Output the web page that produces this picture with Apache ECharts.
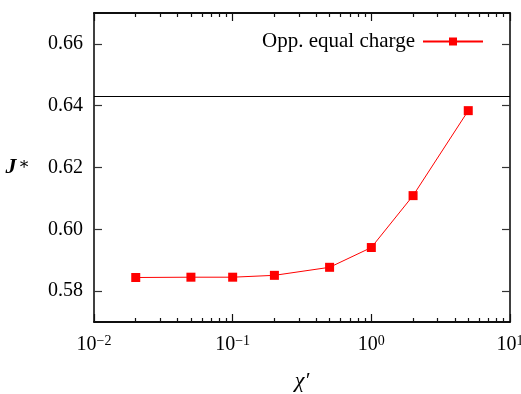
<!DOCTYPE html>
<html><head><meta charset="utf-8">
<script src="https://cdn.jsdelivr.net/npm/echarts@6/dist/echarts.min.js"></script>
<style>html,body{margin:0;padding:0;background:#fff}#c{width:521px;height:394px}</style>
</head><body><div id="c"></div>
<script>
const chiValues = [0.02, 0.05, 0.1, 0.2, 0.5, 1, 2, 5];
const jValues = [0.5844, 0.5845, 0.5845, 0.5851, 0.5877, 0.5941, 0.6109, 0.6384];
const seriesName = 'Opp. equal charge';
const refLine = 0.643;
const yTicks = [0.58, 0.60, 0.62, 0.64, 0.66];
const xMajor = [0.01, 0.1, 1, 10];
const xMinor = [0.02,0.03,0.04,0.05,0.06,0.07,0.08,0.09,0.2,0.3,0.4,0.5,0.6,0.7,0.8,0.9,2,3,4,5,6,7,8,9];
const expLabels = {0.01:'−2', 0.1:'−1', 1:'0', 10:'1'};

const serif = '"Liberation Serif","DejaVu Serif",serif';
const chart = echarts.init(document.getElementById('c'));
function xAx(pos, major, labels){
  return {
    type:'log', min:0.01, max:10, position:pos,
    axisLine:{show:true, lineStyle:{color:'#000', width:1.5}},
    axisTick:{show:true, inside:true, length: major?8:4, customValues: major?xMajor:xMinor, lineStyle:{color:'#111', width:1.2}},
    axisLabel:{show:labels, customValues:xMajor, margin:12,
      formatter:function(v){ return '{b|10}{s|' + (expLabels[v] ?? '') + '}'; },
      rich:{b:{fontFamily:serif, fontSize:20, color:'#000'}, s:{fontFamily:serif, fontSize:14, color:'#000', verticalAlign:'top', padding:[0,0,8,0]}}},
    splitLine:{show:false}
  };
}
const xAxes = [xAx('bottom', true, true), xAx('bottom', false, false), xAx('top', true, false), xAx('top', false, false)];
xAxes[0].name = 'χ′';
xAxes[0].nameLocation = 'middle';
xAxes[0].nameGap = 48;
xAxes[0].nameTextStyle = {fontFamily:serif, fontSize:22, fontStyle:'italic', color:'#000'};

function yAx(pos, labels){
  return {
    type:'value', min:0.57, max:0.67, position:pos,
    axisLine:{show:true, lineStyle:{color:'#000', width:1.5}},
    axisTick:{show:true, inside:true, length:8, customValues:yTicks, lineStyle:{color:'#333', width:1.2}},
    axisLabel:{show:labels, customValues:yTicks, margin:11, fontFamily:serif, fontSize:20, color:'#000',
      formatter:function(v){return v.toFixed(2);}},
    splitLine:{show:false}
  };
}
const yAxes = [yAx('left', true), yAx('right', false)];
yAxes[0].name = '{j|J}{s|∗}';
yAxes[0].nameLocation = 'middle';
yAxes[0].nameRotate = 0;
yAxes[0].nameGap = 64;
yAxes[0].nameTextStyle = {rich:{j:{fontFamily:serif, fontSize:22, fontStyle:'italic', fontWeight:'bold', color:'#000'}, s:{fontFamily:serif, fontSize:17, color:'#000', verticalAlign:'top', padding:[0,0,6,2]}}};

chart.setOption({
  animation:false,
  grid:{left:94, right:11, top:13, bottom:72, containLabel:false, outerBoundsMode:'none'},
  legend:{
    show:true, right:32, top:26, align:'right', itemWidth:60, itemHeight:10,
    textStyle:{fontFamily:serif, fontSize:21, color:'#000', padding:[0,3,0,0]},
    data:[{name:seriesName}]
  },
  xAxis: xAxes,
  yAxis: yAxes,
  series:[{
    name: seriesName, type:'line', xAxisIndex:0, yAxisIndex:0,
    data: chiValues.map((x,i)=>[x, jValues[i]]),
    symbol:'rect', symbolSize:9,
    lineStyle:{color:'#ff0000', width:1}, itemStyle:{color:'#ff0000'},
    markLine:{silent:true, symbol:'none', precision:4, label:{show:false}, lineStyle:{color:'#000', width:1, type:'solid'},
      data:[{yAxis: refLine}]}
  }]
});
</script></body></html>
